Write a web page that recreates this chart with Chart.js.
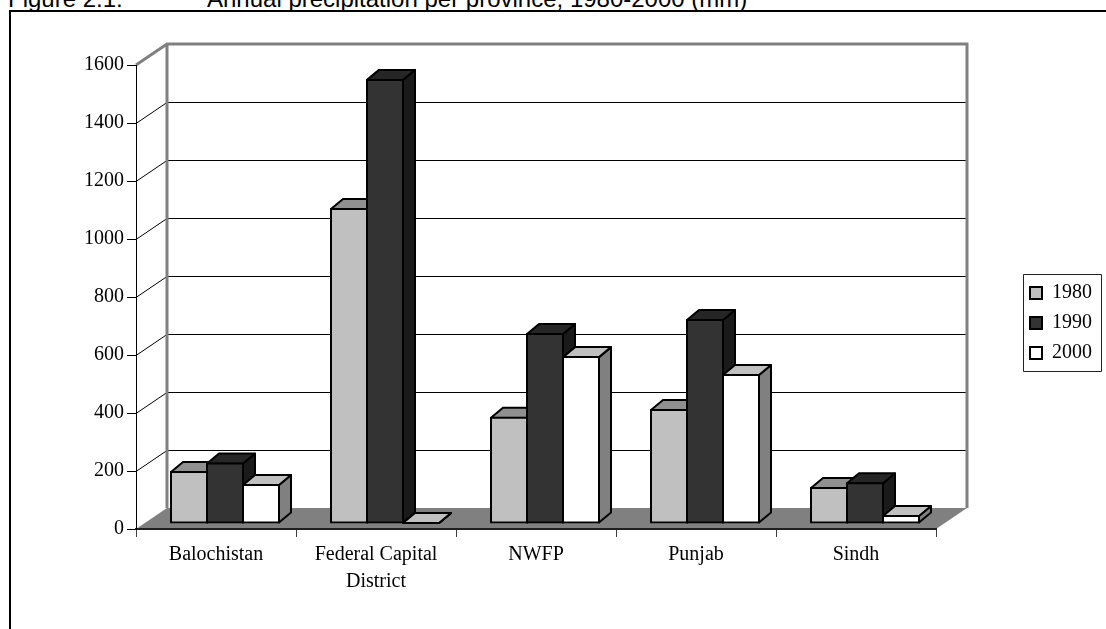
<!DOCTYPE html>
<html>
<head>
<meta charset="utf-8">
<script src="https://cdn.jsdelivr.net/npm/chart.js@4.4.0/dist/chart.umd.min.js"></script>
<style>
  body { margin: 0; background: #fff; overflow: hidden; }
  #page { position: relative; width: 1106px; height: 629px; overflow: hidden; }
  .title { position: absolute; top: -13px; font: 24px "Liberation Sans", Arial, sans-serif; line-height: 24px; white-space: nowrap; color: #000; }
  #frame { position: absolute; left: 9px; top: 10px; width: 1200px; height: 700px; border: 2px solid #000; }
  #chartBox { position: absolute; left: 0; top: 0; width: 1106px; height: 629px; }
</style>
</head>
<body>
<div id="page">
  <div class="title" style="left:8px">Figure 2.1:</div>
  <div class="title" style="left:207px">Annual precipitation per province, 1980-2000 (mm)</div>
  <div id="frame"></div>
  <div id="chartBox"><canvas id="myChart"></canvas></div>
</div>
<script>
const provinces = ['Balochistan', ['Federal Capital', 'District'], 'NWFP', 'Punjab', 'Sindh'];
const years = ['1980', '1990', '2000'];
const precip1980 = [176, 1083, 363, 390, 121];
const precip1990 = [205, 1528, 652, 700, 137];
const precip2000 = [131, 0, 572, 510, 24];
const yMin = 0, yMax = 1600, yStep = 200;

const frontColors = ['#C0C0C0', '#333333', '#FFFFFF'];
const topColors = ['#909090', '#262626', '#C0C0C0'];
const sideColors = ['#606060', '#1A1A1A', '#808080'];

// 3d look: depth of the walls/floor, depth of the bars, and how far back the bars stand
const DEPTH_X = 31, DEPTH_Y = -21;
const BAR_X = 12, BAR_Y = -10;
const SHIFT_X = 9, SHIFT_Y = -6;

Chart.defaults.font.family = '"Liberation Serif", "Times New Roman", serif';
Chart.defaults.font.size = 20;
Chart.defaults.color = '#000';

function barFaces(c, bar, top, side) {
    const l = bar.x - bar.width / 2 + SHIFT_X, r = bar.x + bar.width / 2 + SHIFT_X;
    const t = bar.y + SHIFT_Y, b = bar.base + SHIFT_Y;
    c.lineWidth = 2;
    c.strokeStyle = '#000';
    c.lineJoin = 'round';
    c.fillStyle = side;
    c.beginPath();
    c.moveTo(r, t); c.lineTo(r + BAR_X, t + BAR_Y); c.lineTo(r + BAR_X, b + BAR_Y); c.lineTo(r, b);
    c.closePath(); c.fill(); c.stroke();
    c.fillStyle = top;
    c.beginPath();
    c.moveTo(l, t); c.lineTo(l + BAR_X, t + BAR_Y); c.lineTo(r + BAR_X, t + BAR_Y); c.lineTo(r, t);
    c.closePath(); c.fill(); c.stroke();
}

const box3d = {
    id: 'box3d',
    beforeDraw(chart) {
        const c = chart.ctx, a = chart.chartArea, ys = chart.scales.y;
        c.save();
        // floor
        c.fillStyle = '#808080';
        c.beginPath();
        c.moveTo(a.left, a.bottom); c.lineTo(a.right, a.bottom);
        c.lineTo(a.right + DEPTH_X, a.bottom + DEPTH_Y); c.lineTo(a.left + DEPTH_X, a.bottom + DEPTH_Y);
        c.closePath(); c.fill();
        // grid on side wall + back wall
        c.strokeStyle = '#000';
        c.lineWidth = 1;
        ys.ticks.forEach(t => {
            if (t.value === yMin || t.value === yMax) return;
            const py = Math.round(ys.getPixelForValue(t.value)) + 0.5;
            c.beginPath();
            c.moveTo(a.left, py);
            c.lineTo(a.left + DEPTH_X, py + DEPTH_Y);
            c.lineTo(a.right + DEPTH_X, py + DEPTH_Y);
            c.stroke();
        });
        // wall edges
        c.strokeStyle = '#808080';
        c.lineWidth = 3;
        c.beginPath();
        c.moveTo(a.left, a.top);
        c.lineTo(a.left + DEPTH_X, a.top + DEPTH_Y);
        c.lineTo(a.right + DEPTH_X, a.top + DEPTH_Y);
        c.lineTo(a.right + DEPTH_X, a.bottom + DEPTH_Y);
        c.moveTo(a.left + DEPTH_X, a.top + DEPTH_Y);
        c.lineTo(a.left + DEPTH_X, a.bottom + DEPTH_Y);
        c.stroke();
        c.restore();
    },
    beforeDatasetsDraw(chart) {
        const c = chart.ctx;
        c.save();
        chart.data.datasets.forEach((ds, i) => {
            chart.getDatasetMeta(i).data.forEach(bar => barFaces(c, bar, topColors[i], sideColors[i]));
        });
        c.restore();
        // front faces drawn by chart.js, pushed back into the box
        c.save();
        c.translate(SHIFT_X, SHIFT_Y);
    },
    afterDatasetsDraw(chart) {
        const c = chart.ctx;
        c.restore();
        // flat (zero) bars: put the lid back on top
        chart.data.datasets.forEach((ds, i) => {
            chart.getDatasetMeta(i).data.forEach(bar => {
                if (Math.abs(bar.base - bar.y) < 1) barFaces(c, bar, topColors[i], sideColors[i]);
            });
        });
    },
    afterDraw(chart) {
        const lg = chart.legend, hb = lg.legendHitBoxes;
        if (!hb || !hb.length) return;
        const last = hb[hb.length - 1];
        const c = chart.ctx;
        c.save();
        c.strokeStyle = '#222';
        c.lineWidth = 1;
        c.strokeRect(lg.left + 3.5, Math.round(hb[0].top) - 8.5, 78, Math.round(last.top + last.height - hb[0].top) + 17);
        c.restore();
    }
};

const ctx = document.getElementById('myChart');
const myChart = new Chart(ctx, {
    type: 'bar',
    data: {
        labels: provinces,
        datasets: [{
            label: years[0],
            data: precip1980,
            backgroundColor: frontColors[0],
            xAxisID: 'x',
            yAxisID: 'y'
        }, {
            label: years[1],
            data: precip1990,
            backgroundColor: frontColors[1],
            xAxisID: 'x',
            yAxisID: 'y'
        }, {
            label: years[2],
            data: precip2000,
            backgroundColor: frontColors[2],
            xAxisID: 'x',
            yAxisID: 'y'
        }]
    },
    options: {
        responsive: true,
        maintainAspectRatio: false,
        animation: false,
        datasets: {
            bar: {
                borderColor: '#000',
                borderWidth: 2,
                borderSkipped: false,
                inflateAmount: 1,
                clip: false,
                categoryPercentage: 0.675,
                barPercentage: 1
            }
        },
        layout: {
            padding: { top: 17, right: 4, bottom: 0, left: 0 }
        },
        plugins: {
            tooltip: { enabled: false },
            legend: {
                position: 'right',
                labels: {
                    boxWidth: 12,
                    boxHeight: 12,
                    padding: 10,
                    color: '#000',
                    font: { size: 20 }
                }
            }
        },
        scales: {
            x: {
                grid: { drawOnChartArea: false, tickLength: 8, tickColor: '#404040' },
                border: { color: '#202020', width: 2 },
                ticks: { color: '#000', font: { size: 20, lineHeight: 1.35 }, padding: 4, maxRotation: 0, autoSkip: false },
                afterFit: s => { s.height = 100; }
            },
            y: {
                min: yMin,
                max: yMax,
                ticks: { stepSize: yStep, color: '#000', font: { size: 20 }, padding: 3, callback: value => String(value) },
                grid: { drawOnChartArea: false, tickLength: 9, tickColor: '#000' },
                border: { color: '#000', width: 1 },
                afterFit: s => { s.width = 136; }
            },
            // empty spacer axes to place the plot box
            gap: {
                type: 'linear',
                position: 'right',
                grid: { display: false },
                ticks: { display: false },
                border: { display: false },
                afterFit: s => { s.width = 84; }
            },
            gapTop: {
                type: 'linear',
                position: 'top',
                grid: { display: false },
                ticks: { display: false },
                border: { display: false },
                afterFit: s => { s.height = 48; }
            }
        }
    },
    plugins: [box3d]
});
</script>
</body>
</html>
